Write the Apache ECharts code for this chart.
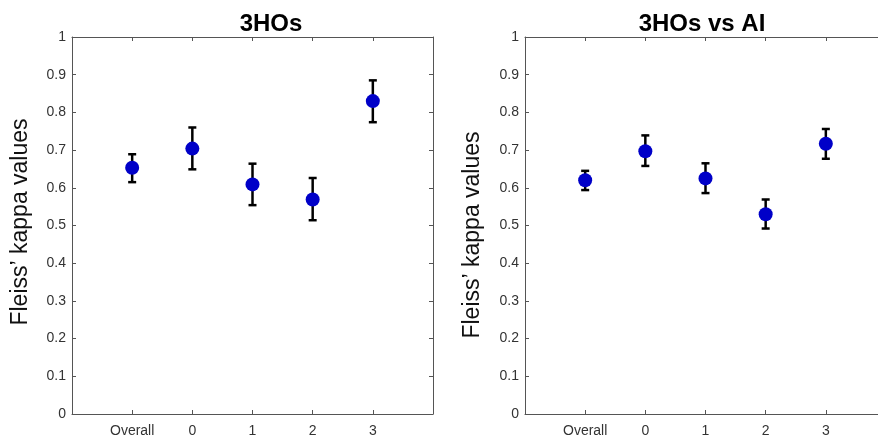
<!DOCTYPE html>
<html>
<head>
<meta charset="utf-8">
<script src="https://cdn.jsdelivr.net/npm/echarts@6/dist/echarts.min.js"></script>
<style>
  html, body { margin: 0; padding: 0; background: #fff; }
  #chart { width: 878px; height: 439px; }
</style>
</head>
<body>
<div id="chart"></div>
<script>
// Agreement groups shown along the x axis
const categories = ['Overall', '0', '1', '2', '3'];

// Panel 1: agreement among the three human observers
const kappaHO = [0.653, 0.704, 0.609, 0.569, 0.830];
const lowerHO = [0.615, 0.649, 0.554, 0.514, 0.774];
const upperHO = [0.689, 0.760, 0.664, 0.626, 0.885];

// Panel 2: three human observers together with the AI
const kappaAI = [0.620, 0.697, 0.625, 0.530, 0.717];
const lowerAI = [0.594, 0.658, 0.586, 0.492, 0.677];
const upperAI = [0.645, 0.739, 0.665, 0.569, 0.756];

const yTicks = [0, 0.1, 0.2, 0.3, 0.4, 0.5, 0.6, 0.7, 0.8, 0.9, 1];
const panelTitles = ['3HOs', '3HOs vs AI'];
const yName = 'Fleiss\u2019 kappa values';

const FONT = '"Liberation Sans", Arial, Helvetica, sans-serif';
const AXIS_COLOR = '#555';
const DOT_COLOR = '#0000c8';

const chart = echarts.init(document.getElementById('chart'), null, { renderer: 'canvas' });

// Both panels share the same x scale (about 60 px per group); the second
// panel is cut by the canvas edge, so its visible range ends before 6.
const grids = [
  { left: 72, top: 37, width: 361, height: 377 },
  { left: 525, top: 37, width: 353, height: 377 }
];
const xMax = [6, 6 * 353 / 361];
const showRightLine = [true, false];

function catLabel(v) {
  const i = Math.round(v) - 1;
  return (i >= 0 && i < categories.length && Math.abs(v - i - 1) < 1e-6) ? categories[i] : '';
}

const xAxes = [];
const yAxes = [];
grids.forEach((g, gi) => {
  // bottom axis with group labels
  xAxes.push({
    type: 'value', gridIndex: gi, min: 0, max: xMax[gi], interval: 1, position: 'bottom',
    axisLine: { show: true, lineStyle: { color: AXIS_COLOR, width: 1 } },
    axisTick: { show: true, inside: true, length: 4, lineStyle: { color: AXIS_COLOR },
      customValues: [1, 2, 3, 4, 5] },
    axisLabel: { show: true, color: '#333', fontFamily: FONT, fontSize: 14, margin: 10,
      customValues: [1, 2, 3, 4, 5], formatter: catLabel },
    splitLine: { show: false }
  });
  // top box edge
  xAxes.push({
    type: 'value', gridIndex: gi, min: 0, max: xMax[gi], interval: 1, position: 'top',
    axisLine: { show: true, onZero: false, lineStyle: { color: AXIS_COLOR, width: 1 } },
    axisTick: { show: true, inside: true, length: 4, lineStyle: { color: AXIS_COLOR },
      customValues: [1, 2, 3, 4, 5] },
    axisLabel: { show: false },
    splitLine: { show: false }
  });
  yAxes.push({
    type: 'value', gridIndex: gi, min: 0, max: 1, interval: 0.1, position: 'left',
    axisLine: { show: true, lineStyle: { color: AXIS_COLOR, width: 1 } },
    axisTick: { show: true, inside: true, length: 4, lineStyle: { color: AXIS_COLOR } },
    axisLabel: { show: true, color: '#333', fontFamily: FONT, fontSize: 14, margin: 6,
      customValues: yTicks,
      formatter: v => (Math.round(v * 10) / 10).toString() },
    splitLine: { show: false }
  });
  // right box edge
  yAxes.push({
    type: 'value', gridIndex: gi, min: 0, max: 1, interval: 0.1, position: 'right',
    axisLine: { show: showRightLine[gi], onZero: false, lineStyle: { color: AXIS_COLOR, width: 1 } },
    axisTick: { show: showRightLine[gi], inside: true, length: 4, lineStyle: { color: AXIS_COLOR } },
    axisLabel: { show: false },
    splitLine: { show: false }
  });
});

function errorBarSeries(gi, lower, upper) {
  const data = categories.map((c, i) => [i + 1, lower[i], upper[i]]);
  return {
    type: 'custom', xAxisIndex: gi * 2, yAxisIndex: gi * 2,
    data: data, silent: true, z: 2,
    renderItem: function (params, api) {
      const x = api.value(0);
      const lo = api.coord([x, api.value(1)]);
      const hi = api.coord([x, api.value(2)]);
      const cap = 4;
      const style = { stroke: '#000', lineWidth: 2.5, fill: null };
      return {
        type: 'group',
        children: [
          { type: 'line', shape: { x1: lo[0], y1: lo[1], x2: hi[0], y2: hi[1] }, style: style },
          { type: 'line', shape: { x1: hi[0] - cap, y1: hi[1], x2: hi[0] + cap, y2: hi[1] }, style: style },
          { type: 'line', shape: { x1: lo[0] - cap, y1: lo[1], x2: lo[0] + cap, y2: lo[1] }, style: style }
        ]
      };
    }
  };
}

function dotSeries(gi, values) {
  return {
    type: 'scatter', xAxisIndex: gi * 2, yAxisIndex: gi * 2,
    data: values.map((v, i) => [i + 1, v]),
    symbol: 'circle', symbolSize: 14, z: 3, silent: true,
    itemStyle: { color: DOT_COLOR, opacity: 1 }
  };
}

const option = {
  backgroundColor: '#fff',
  animation: false,
  title: [
    { text: panelTitles[0], left: 266, top: 7, textAlign: 'center',
      textStyle: { fontFamily: FONT, fontSize: 24, fontWeight: 'bold', color: '#000' } },
    { text: panelTitles[1], left: 697, top: 7, textAlign: 'center',
      textStyle: { fontFamily: FONT, fontSize: 24, fontWeight: 'bold', color: '#000' } }
  ],
  grid: grids,
  xAxis: xAxes,
  yAxis: yAxes,
  graphic: [
    { type: 'text', x: 21, y: 222, rotation: Math.PI / 2,
      style: { text: yName, font: '23px ' + FONT, fill: '#111', textAlign: 'center', textVerticalAlign: 'middle' } },
    { type: 'text', x: 473, y: 235, rotation: Math.PI / 2,
      style: { text: yName, font: '23px ' + FONT, fill: '#111', textAlign: 'center', textVerticalAlign: 'middle' } }
  ],
  series: [
    errorBarSeries(0, lowerHO, upperHO),
    dotSeries(0, kappaHO),
    errorBarSeries(1, lowerAI, upperAI),
    dotSeries(1, kappaAI)
  ]
};

chart.setOption(option);
</script>
</body>
</html>
